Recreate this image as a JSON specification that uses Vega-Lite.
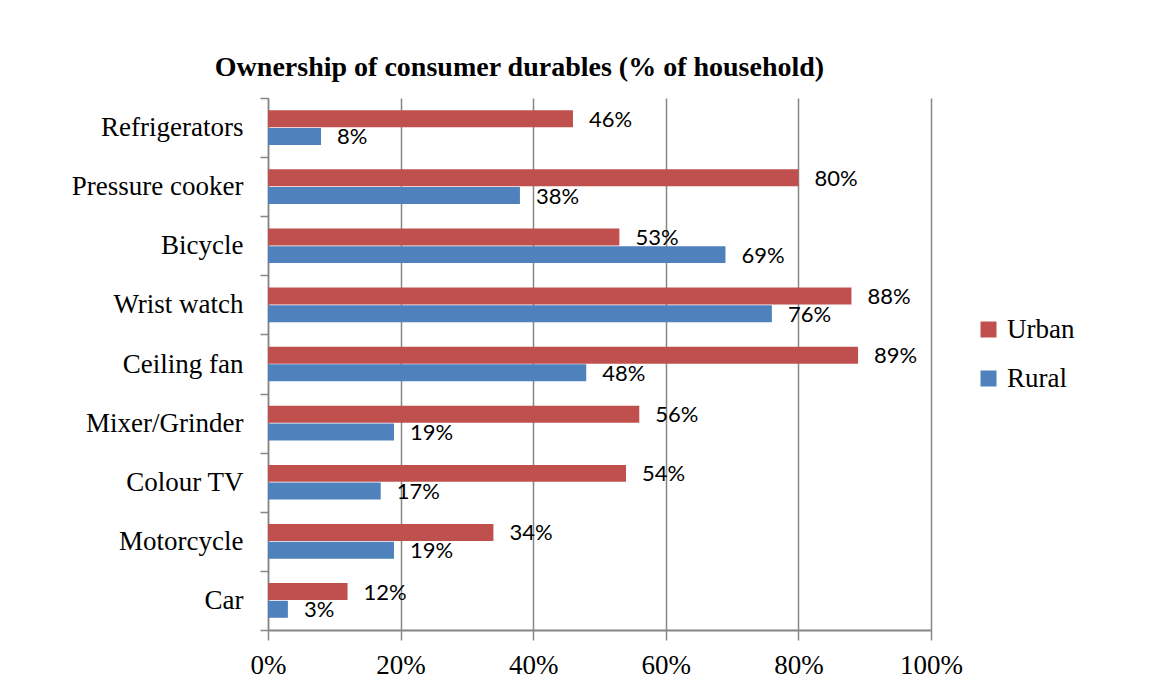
{
  "$schema": "https://vega.github.io/schema/vega-lite/v6.json",
  "autosize": "none",
  "width": 663,
  "height": 532,
  "padding": {"left": 268, "top": 98, "right": 219, "bottom": 64},
  "background": "white",
  "title": {
    "text": "Ownership of consumer durables (% of household)",
    "font": "Liberation Serif",
    "fontSize": 28,
    "fontWeight": "bold",
    "color": "black",
    "anchor": "middle",
    "frame": "group",
    "dx": -80,
    "offset": 2
  },
  "data": {
    "values": [
      {"item": "Refrigerators", "series": "Urban", "value": 0.46},
      {"item": "Refrigerators", "series": "Rural", "value": 0.08},
      {"item": "Pressure cooker", "series": "Urban", "value": 0.80},
      {"item": "Pressure cooker", "series": "Rural", "value": 0.38},
      {"item": "Bicycle", "series": "Urban", "value": 0.53},
      {"item": "Bicycle", "series": "Rural", "value": 0.69},
      {"item": "Wrist watch", "series": "Urban", "value": 0.88},
      {"item": "Wrist watch", "series": "Rural", "value": 0.76},
      {"item": "Ceiling fan", "series": "Urban", "value": 0.89},
      {"item": "Ceiling fan", "series": "Rural", "value": 0.48},
      {"item": "Mixer/Grinder", "series": "Urban", "value": 0.56},
      {"item": "Mixer/Grinder", "series": "Rural", "value": 0.19},
      {"item": "Colour TV", "series": "Urban", "value": 0.54},
      {"item": "Colour TV", "series": "Rural", "value": 0.17},
      {"item": "Motorcycle", "series": "Urban", "value": 0.34},
      {"item": "Motorcycle", "series": "Rural", "value": 0.19},
      {"item": "Car", "series": "Urban", "value": 0.12},
      {"item": "Car", "series": "Rural", "value": 0.03}
    ]
  },
  "encoding": {
    "y": {
      "field": "item",
      "type": "nominal",
      "sort": null,
      "scale": {"paddingInner": 0, "paddingOuter": 0},
      "axis": {
        "title": null,
        "labelFont": "Liberation Serif",
        "labelFontSize": 27,
        "labelColor": "black",
        "domainColor": "#868686",
        "domainWidth": 1.5,
        "tickBand": "extent",
        "tickSize": 8,
        "tickColor": "#868686",
        "tickWidth": 1.5,
        "labelPadding": 17
      }
    },
    "yOffset": {
      "field": "series",
      "type": "nominal",
      "sort": ["Urban", "Rural"],
      "scale": {"paddingInner": 0.04, "paddingOuter": 0.69}
    },
    "x": {
      "field": "value",
      "type": "quantitative",
      "scale": {"domain": [0, 1], "nice": false},
      "axis": {
        "title": null,
        "format": ".0%",
        "values": [0, 0.2, 0.4, 0.6, 0.8, 1],
        "labelFlush": false,
        "labelFont": "Liberation Serif",
        "labelFontSize": 27,
        "labelColor": "black",
        "domainColor": "#868686",
        "domainWidth": 2,
        "tickColor": "#868686",
        "tickWidth": 1.5,
        "tickSize": 10,
        "labelPadding": 12,
        "grid": true,
        "gridColor": "#868686",
        "gridWidth": 1.5
      }
    }
  },
  "layer": [
    {
      "mark": {"type": "bar"},
      "encoding": {
        "color": {
          "field": "series",
          "type": "nominal",
          "sort": ["Urban", "Rural"],
          "scale": {"domain": ["Urban", "Rural"], "range": ["#C0504D", "#4F81BD"]},
          "legend": {
            "title": null,
            "orient": "none",
            "legendX": 707,
            "legendY": 218,
            "symbolType": "square",
            "symbolSize": 256,
            "symbolStrokeWidth": 0,
            "labelFont": "Liberation Serif",
            "labelFontSize": 27,
            "labelColor": "black",
            "labelOffset": 5,
            "rowPadding": 21
          }
        }
      }
    },
    {
      "mark": {"type": "text", "align": "left", "baseline": "middle", "dx": 16, "dy": 1, "font": "Lato", "fontSize": 22, "color": "black"},
      "encoding": {
        "text": {"field": "value", "type": "quantitative", "format": ".0%"}
      }
    }
  ],
  "config": {"view": {"stroke": null}}
}
